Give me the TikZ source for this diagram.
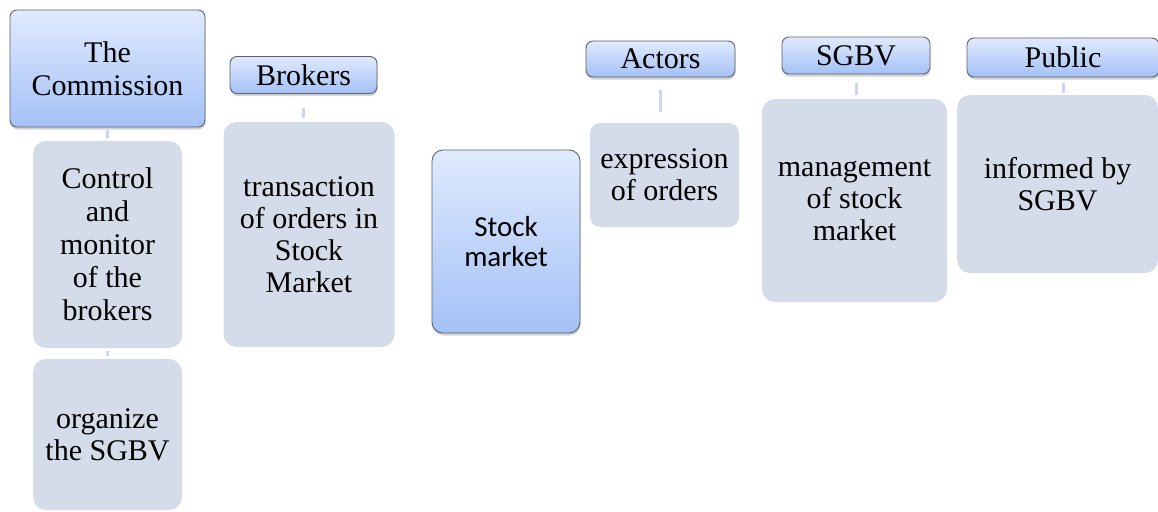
\documentclass[tikz,border=0pt]{standalone}
\usepackage{fontspec}
\setmainfont{Liberation Serif}
\newfontfamily\calib{Carlito}
\usetikzlibrary{shadows}
\definecolor{boxgray}{HTML}{D4DBE9}
\definecolor{bluetop}{HTML}{E0EAFD}
\definecolor{bluebot}{HTML}{A4C1F6}
\definecolor{bordergray}{HTML}{5E636B}
\definecolor{connblue}{HTML}{C8D8F2}
\tikzset{
  x=1pt, y=-1pt,
  bluebox/.style={draw=bordergray, line width=0.9pt, rounded corners=7pt,
    top color=bluetop, bottom color=bluebot, align=center, inner sep=1pt,
    drop shadow={opacity=0.35, shadow xshift=0.5pt, shadow yshift=-2.5pt},
    font=\fontsize{30}{33}\selectfont},
  graybox/.style={fill=boxgray, rounded corners=13pt, align=center, inner sep=1pt,
    font=\fontsize{30}{32}\selectfont},
  conn/.style={draw=connblue, line width=3pt},
}
\begin{document}
\begin{tikzpicture}
\useasboundingbox (0,0) rectangle (1158,511);
% headers
\node[bluebox, minimum width=195pt, minimum height=117pt] (comm) at (107.5,68.5) {The\\Commission};
\node[bluebox, minimum width=147pt, minimum height=37pt] (brk) at (303.5,75) {Brokers};
\node[bluebox, minimum width=148pt, minimum height=183pt, rounded corners=11pt,
      font=\calib\fontsize{29}{30}\selectfont] (stock) at (506,241.5) {Stock\\market};
\node[bluebox, minimum width=149pt, minimum height=36pt] (act) at (660.5,59) {Actors};
\node[bluebox, minimum width=148pt, minimum height=37pt] (sgbv) at (856,55.5) {SGBV};
\node[bluebox, minimum width=192pt, minimum height=39pt] (pub) at (1063,57.5) {Public};
% gray boxes
\node[graybox, minimum width=149pt, minimum height=207pt, font=\fontsize{30}{33}\selectfont] (ctrl) at (107.5,244.5) {Control\\and\\monitor\\of the\\brokers};
\node[graybox, minimum width=149pt, minimum height=151pt] (org) at (107.5,434.5) {organize\\the SGBV};
\node[graybox, minimum width=171pt, minimum height=225pt] (trans) at (309,234.5) {transaction\\of orders in\\Stock\\Market};
\node[graybox, minimum width=149pt, minimum height=104pt, rounded corners=10pt] (expr) at (664.5,175) {expression\\of orders};
\node[graybox, minimum width=185pt, minimum height=203pt] (mgmt) at (854.5,200.5) {management\\of stock\\market};
\node[graybox, minimum width=201pt, minimum height=178pt] (inf) at (1057.5,184) {informed by\\SGBV};
% connectors
\draw[conn, shorten <=3pt, shorten >=3pt] (comm.south) -- (ctrl.north);
\draw[conn, shorten <=3pt, shorten >=3pt] (ctrl.south) -- (org.north);
\draw[conn, shorten <=14pt, shorten >=4pt] (brk.south) -- (brk.south |- trans.north);
\draw[conn, shorten <=13pt, shorten >=11pt] (act.south) -- (act.south |- expr.north);
\draw[conn, shorten <=9pt, shorten >=4pt] (sgbv.south) -- (sgbv.south |- mgmt.north);
\draw[conn, shorten <=6pt, shorten >=2pt] (pub.south) -- (pub.south |- inf.north);
\end{tikzpicture}
\end{document}
